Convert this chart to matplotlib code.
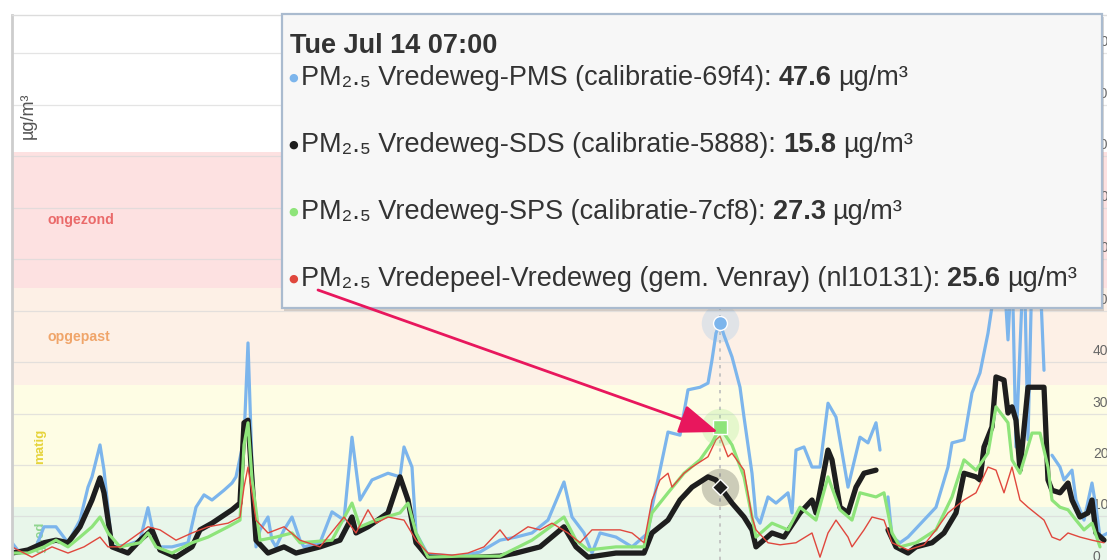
import numpy as np
import matplotlib
matplotlib.use("Agg")
import matplotlib.pyplot as plt
from matplotlib import transforms
from matplotlib.patches import Rectangle, FancyArrowPatch

nan = np.nan

# hours since Mon Jul 06 22:00 (hour 177 = Tue Jul 14 07:00)
pms_hours = [
    0, 2, 6, 8, 11, 14, 17, 19, 20, 22,
    23, 25, 29, 32, 34, 36, 40, 44, 46, 48,
    50, 53, 55, 56, 58, 59, 60, 61, 62, 64,
    65, 66, 68, 70, 72, 73, 77, 80, 83, 85,
    87, 90, 94, 97, 98, 100, 101, 104, 107, 112,
    117, 122, 126, 130, 134, 138, 140, 143, 145, 147,
    151, 155, 159, 160, 162, 164, 167, 169, 172, 174,
    175, 176, 177, 178, 180, 182, 183, 184, 185, 186,
    187, 189, 191, 194, 195, 196, 198, 200, 202, 204,
    206, 209, 212, 214, 216, 217, 218, 219, 220, 222,
    224, 228, 231, 234, 235, 238, 240, 242, 244, 246,
    247, 248, 249, 250, 251, 253, 254, 255, 257, 258,
    259, 260, 262, 263, 265, 266, 268, 270, 271, 272,
    274]
pms_vals = [
    4.9, 2.9, 4.1, 8.0, 8.0, 4.9, 9.3, 15.7, 17.7, 23.9,
    19.0, 4.1, 4.5, 5.4, 11.7, 4.1, 4.1, 4.9, 11.8, 14.2,
    13.2, 15.1, 16.5, 17.7, 25.0, 43.7, 20.0, 4.1, 7.4, 9.9,
    5.4, 4.1, 7.4, 9.9, 5.4, 4.1, 4.9, 10.9, 9.3, 25.4,
    13.2, 17.1, 18.4, 17.7, 23.5, 19.6, 6.8, 2.5, 2.5, 2.3,
    3.1, 5.4, 6.0, 6.8, 9.3, 16.7, 9.9, 6.8, 2.9, 6.8,
    6.0, 4.1, 6.8, 11.8, 19.0, 26.4, 25.8, 34.6, 35.1, 35.9,
    40.4, 45.6, 47.6, 45.2, 41.0, 35.1, 29.3, 23.9, 18.4, 9.9,
    8.7, 13.8, 12.6, 14.6, 10.7, 22.9, 23.5, 19.6, 19.6, 32.0,
    29.3, 15.7, 25.4, 24.3, 28.2, 22.9, nan, 13.8, 6.0, 4.9,
    6.0, 9.3, 11.8, 19.6, 24.3, 24.9, 34.0, 37.9, 45.6, 56.0,
    64.0, 57.0, 44.3, 60.0, 23.5, 62.0, 24.9, 58.0, 57.0, 38.4,
    nan, 21.9, 19.6, 17.1, 19.0, 13.2, 9.3, 16.5, 11.8, 6.0,
    6.8]

sds_hours = [
    0, 4, 8, 11, 14, 17, 20, 22, 23, 25,
    29, 32, 35, 37, 41, 45, 47, 50, 55, 57,
    58, 59, 60, 61, 64, 68, 71, 77, 82, 85,
    86, 89, 94, 97, 99, 101, 104, 112, 122, 126,
    132, 138, 141, 144, 151, 158, 160, 164, 167, 170,
    174, 176, 177, 180, 183, 185, 186, 190, 193, 197,
    200, 201, 204, 205, 207, 209, 211, 213, 216, 218,
    219, 221, 224, 226, 230, 233, 236, 238, 241, 242,
    243, 245, 246, 248, 249, 250, 251, 252, 254, 256,
    258, 259, 260, 262, 264, 265, 267, 269, 270, 271,
    273]
sds_vals = [
    2.9, 3.5, 4.9, 5.4, 4.9, 8.0, 13.2, 17.5, 14.6, 4.1,
    2.9, 5.4, 7.4, 3.5, 2.1, 4.1, 7.4, 8.7, 11.3, 12.6,
    28.2, 28.7, 17.1, 5.4, 2.9, 4.1, 2.9, 4.1, 5.4, 9.9,
    6.8, 8.0, 10.7, 17.7, 13.2, 4.9, 2.1, 1.9, 2.3, 2.9,
    4.1, 8.0, 4.1, 2.1, 2.9, 2.9, 6.8, 9.3, 13.2, 15.7,
    17.7, 17.1, 15.8, 12.6, 9.9, 7.4, 4.1, 6.8, 6.0, 10.7,
    13.2, 10.7, 22.9, 21.0, 11.8, 10.7, 15.7, 18.4, 19.0, nan,
    7.4, 4.1, 2.9, 4.1, 4.9, 6.8, 10.7, 18.4, 17.7, 17.1,
    23.5, 27.4, 37.1, 36.5, 30.1, 31.3, 28.7, 19.0, 35.1, 35.1,
    35.1, 17.1, 15.1, 14.6, 16.5, 13.2, 9.9, 10.7, 13.2, 6.8,
    5.4]

sps_hours = [
    0, 4, 8, 11, 14, 17, 20, 22, 24, 27,
    32, 34, 36, 40, 45, 49, 54, 57, 58, 59,
    60, 62, 66, 70, 72, 80, 85, 87, 91, 97,
    99, 101, 104, 112, 122, 130, 138, 141, 144, 151,
    158, 160, 164, 168, 172, 175, 177, 180, 183, 185,
    186, 190, 194, 197, 201, 204, 207, 210, 212, 216,
    218, 220, 222, 226, 231, 235, 238, 241, 244, 246,
    249, 250, 252, 255, 257, 259, 260, 262, 264, 266,
    268, 270, 272]
sps_vals = [
    2.9, 2.9, 4.1, 5.4, 4.1, 6.0, 8.0, 9.9, 6.8, 4.1,
    4.9, 6.8, 4.1, 2.9, 4.9, 6.0, 8.0, 9.3, 23.9, 28.2,
    17.1, 5.4, 6.0, 6.8, 4.9, 5.4, 12.6, 8.0, 9.3, 10.7,
    12.6, 6.8, 2.1, 2.3, 2.3, 5.4, 9.9, 5.4, 3.5, 4.1,
    4.1, 10.7, 14.6, 18.4, 21.0, 24.3, 27.3, 23.9, 17.7, 9.9,
    6.0, 8.7, 7.4, 11.8, 9.3, 17.7, 11.3, 9.3, 14.6, 13.8,
    14.6, 6.8, 4.1, 4.9, 7.4, 13.8, 21.0, 19.0, 22.3, 31.3,
    28.2, 21.0, 18.4, 26.2, 26.2, 19.6, 13.2, 11.8, 11.3, 9.3,
    7.4, 8.7, 4.1]

nl_hours = [
    0, 5, 10, 14, 18, 22, 24, 27, 34, 37,
    41, 45, 49, 54, 57, 58, 59, 61, 64, 68,
    72, 77, 83, 86, 89, 91, 94, 98, 101, 104,
    110, 114, 118, 122, 124, 129, 132, 135, 139, 142,
    145, 149, 152, 155, 158, 160, 162, 164, 165, 168,
    170, 174, 176, 177, 179, 180, 183, 185, 186, 189,
    192, 196, 200, 202, 204, 206, 209, 210, 213, 215,
    218, 220, 224, 228, 231, 234, 238, 241, 244, 246,
    248, 250, 252, 254, 258, 260, 262, 264, 267, 270,
    273]
nl_vals = [
    4.1, 2.1, 4.1, 2.9, 4.1, 6.0, 4.1, 4.1, 8.0, 7.4,
    5.4, 6.8, 8.0, 8.7, 9.9, 15.7, 19.6, 9.3, 6.8, 8.0,
    5.4, 4.1, 9.9, 6.8, 11.3, 8.7, 9.9, 9.3, 5.4, 2.9,
    2.5, 2.9, 4.1, 7.4, 5.4, 8.0, 7.4, 8.7, 6.8, 4.9,
    7.4, 7.4, 7.4, 6.8, 4.9, 13.2, 17.1, 18.4, 15.7, 18.4,
    19.6, 21.6, 24.9, 25.6, 21.6, 22.3, 19.0, 9.9, 7.4, 4.9,
    4.5, 4.9, 6.8, 2.1, 6.8, 9.3, 6.0, 4.1, 7.4, 9.9,
    9.3, 4.9, 3.5, 4.5, 7.4, 10.7, 13.2, 14.6, 19.6, 19.0,
    14.6, 19.6, 13.2, 11.8, 9.3, 6.0, 5.4, 6.8, 6.0, 5.4,
    4.9]

series_names = [
    "Vredeweg-PMS (calibratie-69f4)",
    "Vredeweg-SDS (calibratie-5888)",
    "Vredeweg-SPS (calibratie-7cf8)",
    "Vredepeel-Vredeweg (gem. Venray) (nl10131)",
]
series_colors = ["#7cb5ec", "#1e1e1e", "#8ee47a", "#e0473d"]
series_widths = [2.3, 3.8, 2.3, 1.0]
hover_markers = ["o", "D", "s", None]

band_edges = [0, 11.8, 35.5, 54.4, 80.8]
band_names = ["goed", "matig", "opgepast", "ongezond"]
band_colors = ["#e8f6ea", "#fefde4", "#fdf0e6", "#fde1e1"]
band_text_colors = ["#8fd58f", "#e6d43c", "#f0a56a", "#ea6a6a"]

tooltip_title = "Tue Jul 14 07:00"
hover_hour = 177
unit = "\u00b5g/m\u00b3"

W, H = 1107, 560
FONT = ["Liberation Sans", "DejaVu Sans"]


def fx(px):
    return px / W


def fy(py):
    return 1 - py / H


fig = plt.figure(figsize=(W / 100, H / 100), dpi=100, facecolor="white")
ax = fig.add_axes([fx(12), 0, (W - 12) / W, (H - 15) / H])
ax.set_xlim(0, 273.75)
ax.set_ylim(1.55, 107.4)
ax.set_facecolor("white")
ax.set_xticks([])
ax.set_yticks([])
for side in ("right", "bottom"):
    ax.spines[side].set_visible(False)
ax.spines["left"].set_color("#cdcdcd")
ax.spines["left"].set_linewidth(2)
ax.spines["top"].set_color("#dcdcdc")
ax.spines["top"].set_linewidth(1)

band_tr = transforms.blended_transform_factory(ax.transAxes, ax.transData)

# plot bands
for lo, hi, c in zip(band_edges[:-1], band_edges[1:], band_colors):
    ax.axhspan(lo, hi, color=c, lw=0, zorder=0)

for i, name in enumerate(band_names):
    mid = (band_edges[i] + band_edges[i + 1]) / 2
    if name in ("goed", "matig"):
        ax.text(0.026, mid, name, transform=band_tr, rotation=90, ha="center", va="center",
                fontsize=9.5, fontweight="bold", color=band_text_colors[i], family=FONT, zorder=1)
    else:
        ax.text(0.032, mid, name, transform=band_tr, ha="left", va="center",
                fontsize=10.2, fontweight="bold", color=band_text_colors[i], family=FONT, zorder=1)

# grid + right-hand labels (drawn just above their grid line)
label_tr = transforms.offset_copy(band_tr, fig=fig, x=0, y=11, units="dots")
for v in range(0, 110, 10):
    ax.axhline(v, color="#d9d9d9", lw=0.9, alpha=0.7, zorder=0.5)
    ax.text(0.987, v, str(v), transform=label_tr, ha="left", va="center",
            fontsize=10, color="#666666", family=FONT, zorder=1, clip_on=False)

ax.axvline(hover_hour, color="#bdbdbd", lw=1.2, ls=(0, (2, 3)), zorder=1.5)

all_series = [
    (pms_hours, pms_vals),
    (sds_hours, sds_vals),
    (sps_hours, sps_vals),
    (nl_hours, nl_vals),
]
hover_values = []
for (hrs, vals), c, lw, mk in zip(all_series, series_colors, series_widths, hover_markers):
    ax.plot(hrs, vals, color=c, lw=lw, solid_joinstyle="round", solid_capstyle="round", zorder=2)
    v = vals[hrs.index(hover_hour)]
    hover_values.append(v)
    if mk:
        ax.plot([hover_hour], [v], "o", ms=27, color=c, alpha=0.22, mec="none", zorder=3)
        ax.plot([hover_hour], [v], mk, ms=10 if mk != "D" else 8, color=c, mec="white", mew=1, zorder=3.5)

fig.text(fx(28), fy(116), unit, rotation=90, ha="center", va="center",
         fontsize=13, color="#555555", family=FONT)

# tooltip
x0, y0, x1, y1 = 282, 14, 1102, 308
fig.add_artist(Rectangle((fx(x0 + 2), fy(y1 + 3)), (x1 - x0) / W, (y1 - y0) / H,
                         transform=fig.transFigure, fc="#8c8c8c", ec="none", alpha=0.35, zorder=4))
fig.add_artist(Rectangle((fx(x0), fy(y1)), (x1 - x0) / W, (y1 - y0) / H,
                         transform=fig.transFigure, fc="#f7f7f7", ec="#aabbcf", lw=1.6, zorder=5))

fig.text(fx(290), fy(53), tooltip_title, fontsize=19.5, fontweight="bold", color="#333333",
         family=FONT, va="baseline", zorder=6)

fig.canvas.draw()
renderer = fig.canvas.get_renderer()
inv = fig.transFigure.inverted()
for i, (name, c, v) in enumerate(zip(series_names, series_colors, hover_values)):
    base = 85 + 67 * i
    fig.text(fx(288), fy(base - 7), "\u25cf", color=c, fontsize=8, ha="left", va="center",
             family=["DejaVu Sans"], zorder=6)
    t1 = fig.text(fx(301), fy(base), "PM\u2082.\u2085 " + name + ":", fontsize=19.5, color="#333333",
                  family=FONT, va="baseline", zorder=6)
    bb = t1.get_window_extent(renderer)
    t2 = fig.text(inv.transform((bb.x1 + 7, 0))[0], fy(base), f"{v:.1f}", fontsize=19.5,
                  fontweight="bold", color="#333333", family=FONT, va="baseline", zorder=6)
    bb2 = t2.get_window_extent(renderer)
    fig.text(inv.transform((bb2.x1 + 7, 0))[0], fy(base), unit, fontsize=19.5, color="#333333",
             family=FONT, va="baseline", zorder=6)

fig.add_artist(FancyArrowPatch((fx(318), fy(290)), (fx(718), fy(432)), transform=fig.transFigure,
                               arrowstyle="-|>,head_length=1.2,head_width=0.45", mutation_scale=20,
                               color="#e8175d", lw=2, shrinkA=0, shrinkB=0, zorder=8))

fig.savefig("out.png", dpi=100, facecolor="white")
